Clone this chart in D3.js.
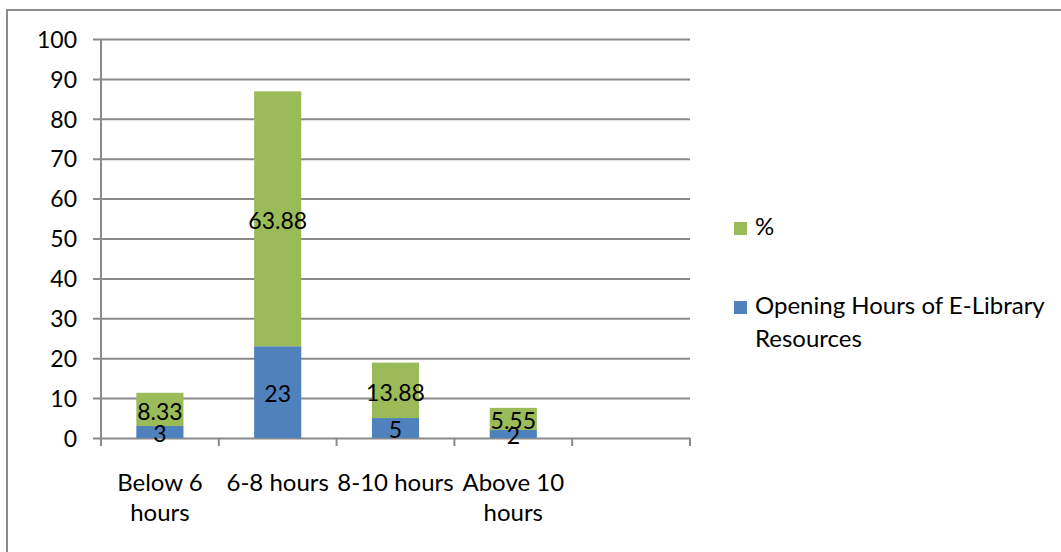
<!DOCTYPE html>
<html>
<head>
<meta charset="utf-8">
<script src="https://cdn.jsdelivr.net/npm/d3@7"></script>
<style>
  html, body { margin: 0; padding: 0; background: #fff; }
  svg { display: block; }
  text { font-family: Lato, "Open Sans", sans-serif; fill: #000; }
</style>
</head>
<body>
<svg id="chart" width="1061" height="552"></svg>
<script>
// Opening hours of e-library resources: counts stacked with percentages
const categories = ["Below 6 hours", "6-8 hours", "8-10 hours", "Above 10 hours"];
const counts = [3, 23, 5, 2];
const percents = [8.33, 63.88, 13.88, 5.55];
const yTicks = [0, 10, 20, 30, 40, 50, 60, 70, 80, 90, 100];
const seriesNames = ["Opening Hours of E-Library Resources", "%"];
const colors = { count: "#4F81BD", pct: "#9BBB59" };

const svg = d3.select("#chart");
const fontSize = 23;
const textSize = 24;
const gridColor = "#8a8a8a";

// outer chart frame
svg.append("rect")
  .attr("x", 7).attr("y", 10)
  .attr("width", 1100).attr("height", 600)
  .attr("fill", "none").attr("stroke", "#8c8c8c").attr("stroke-width", 2);

const plot = { left: 101, right: 690, top: 39, bottom: 438 };

// five slots along the axis; the last one stays empty
const slots = categories.concat(["__blank__"]);
const x = d3.scaleBand().domain(slots)
  .range([plot.left, plot.right])
  .paddingInner(0.6).paddingOuter(0.3);
const slotScale = d3.scaleBand().domain(slots).range([plot.left, plot.right]);
const y = d3.scaleLinear().domain([0, 100]).range([plot.bottom, plot.top]);

// horizontal gridlines and y axis labels
const yAxis = d3.axisLeft(y).tickValues(yTicks)
  .tickSize(plot.right - plot.left + 8).tickPadding(16).tickFormat(d3.format("d"));
const gy = svg.append("g").attr("transform", `translate(${plot.right},0)`).call(yAxis);
gy.select(".domain").remove();
gy.selectAll(".tick line").attr("stroke", gridColor).attr("stroke-width", 2);
gy.selectAll(".tick text").style("font-size", fontSize + "px")
  .attr("font-family", "Lato, 'Open Sans', sans-serif")
  .attr("x", -(plot.right - plot.left) - 24)
  .attr("dy", "0.36em");

// vertical axis line
svg.append("line")
  .attr("x1", plot.left).attr("x2", plot.left)
  .attr("y1", plot.top).attr("y2", plot.bottom)
  .attr("stroke", gridColor).attr("stroke-width", 2);

// category tick marks at slot boundaries
const boundaries = slots.map(s => slotScale(s)).concat([plot.right]);
svg.append("g").selectAll("line").data(boundaries).join("line")
  .attr("x1", d => d).attr("x2", d => d)
  .attr("y1", plot.bottom).attr("y2", plot.bottom + 8)
  .attr("stroke", gridColor).attr("stroke-width", 2);

// stacked bars
const rows = categories.map((c, i) => ({ cat: c, count: counts[i], pct: percents[i] }));
const stack = d3.stack().keys(["count", "pct"])(rows);
const barG = svg.append("g");
stack.forEach(layer => {
  barG.append("g").selectAll("rect").data(layer).join("rect")
    .attr("x", d => x(d.data.cat))
    .attr("width", x.bandwidth())
    .attr("y", d => y(d[1]))
    .attr("height", d => y(d[0]) - y(d[1]))
    .attr("fill", colors[layer.key]);
});

// value labels centred in each segment
stack.forEach(layer => {
  barG.append("g").selectAll("text").data(layer).join("text")
    .attr("x", d => x(d.data.cat) + x.bandwidth() / 2)
    .attr("y", d => y((d[0] + d[1]) / 2) + 2)
    .attr("dy", "0.36em")
    .attr("text-anchor", "middle")
    .style("font-size", fontSize + "px")
    .text(d => d.data[layer.key]);
});

// category labels, wrapped to slot width, nudged right when they would collide
const catG = svg.append("g");
const maxW = slotScale.bandwidth();
let prevRight = -Infinity;
categories.forEach(c => {
  const cx = slotScale(c) + slotScale.bandwidth() / 2;
  const t = catG.append("text").attr("text-anchor", "middle").style("font-size", textSize + "px");
  const words = c.split(" ");
  const lines = [];
  let cur = [];
  const probe = catG.append("text").style("font-size", textSize + "px");
  words.forEach(w => {
    const trial = cur.concat([w]).join(" ");
    probe.text(trial);
    if (cur.length && probe.node().getComputedTextLength() > maxW) {
      lines.push(cur.join(" "));
      cur = [w];
    } else cur.push(w);
  });
  lines.push(cur.join(" "));
  probe.text(lines[0]);
  const w0 = probe.node().getComputedTextLength();
  probe.remove();
  let px = cx;
  if (px - w0 / 2 < prevRight + 6) px = prevRight + 6 + w0 / 2;
  prevRight = px + w0 / 2;
  lines.forEach((ln, i) => {
    t.append("tspan").attr("x", px).attr("y", 491 + i * 30).text(ln);
  });
});

// legend
const legend = svg.append("g");
const legendItems = [
  { name: seriesNames[1], color: colors.pct, y: 222, lines: ["%"] },
  { name: seriesNames[0], color: colors.count, y: 301, lines: ["Opening Hours of E-Library", "Resources"] }
];
legendItems.forEach(it => {
  legend.append("rect").attr("x", 734).attr("y", it.y).attr("width", 13).attr("height", 13).attr("fill", it.color);
  const t = legend.append("text").style("font-size", textSize + "px");
  it.lines.forEach((ln, i) => {
    t.append("tspan").attr("x", 755).attr("y", it.y + 13 + i * 33).text(ln);
  });
});
</script>
</body>
</html>
